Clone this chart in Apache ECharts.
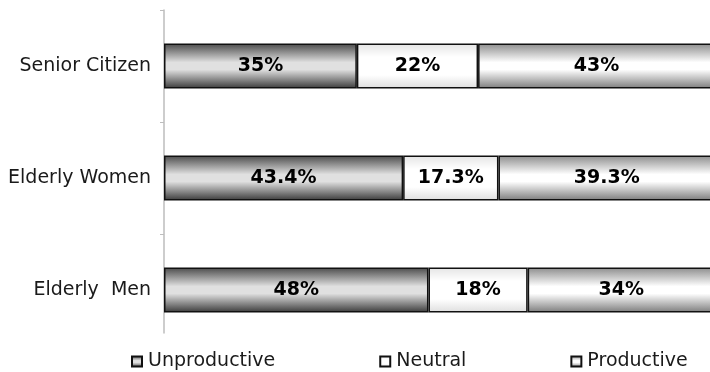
<!DOCTYPE html>
<html>
<head>
<meta charset="utf-8">
<script src="https://cdn.jsdelivr.net/npm/echarts@6/dist/echarts.min.js"></script>
<style>
  html, body { margin: 0; padding: 0; background: #fff; }
  #chart { width: 710px; height: 372px; }
</style>
</head>
<body>
<div id="chart"></div>
<script>
// Groups, bottom to top
const groups = ['Elderly  Men', 'Elderly Women', 'Senior Citizen'];
// Share of each attitude per group (%)
const unproductive = [48, 43.4, 35];
const neutral = [18, 17.3, 22];
const productive = [34, 39.3, 43];
const seriesNames = ['Unproductive', 'Neutral', 'Productive'];

const FONT = 'DejaVu Sans';

function vGrad(stops) {
  return new echarts.graphic.LinearGradient(0, 0, 0, 1,
    stops.map(s => ({ offset: s[0], color: s[1] })));
}

const fills = [
  vGrad([[0, '#4a4a4a'], [0.42, '#e0e0e0'], [0.58, '#e0e0e0'], [1, '#3a3a3a']]),
  vGrad([[0, '#e4e4e4'], [0.3, '#ffffff'], [0.7, '#ffffff'], [1, '#dedede']]),
  vGrad([[0, '#8c8c8c'], [0.42, '#ffffff'], [0.58, '#ffffff'], [1, '#7c7c7c']])
];

const values = [unproductive, neutral, productive];

const series = seriesNames.map((name, i) => ({
  name: name,
  type: 'bar',
  stack: 'total',
  barWidth: 45,
  xAxisIndex: 0,
  yAxisIndex: 0,
  data: values[i],
  itemStyle: { color: fills[i], borderColor: '#111', borderWidth: 1.5 },
  label: {
    show: true,
    position: 'inside',
    formatter: p => p.value + '%',
    color: '#000',
    fontFamily: FONT,
    fontWeight: 'bold',
    fontSize: 19
  }
}));

const chart = echarts.init(document.getElementById('chart'), null, { renderer: 'canvas' });
chart.setOption({
  animation: false,
  backgroundColor: '#fff',
  grid: [
    // the plot runs slightly past the right edge of the canvas
    { left: 164, width: 551, top: 10, height: 336, outerBoundsMode: 'none', containLabel: false },
    // shorter axis line on the left edge of the plot
    { left: 164, width: 10, top: 10, height: 323, outerBoundsMode: 'none', containLabel: false }
  ],
  xAxis: [
    { type: 'value', gridIndex: 0, min: 0, max: 100, show: false },
    { type: 'value', gridIndex: 1, show: false }
  ],
  yAxis: [
    {
      type: 'category',
      gridIndex: 0,
      data: groups,
      axisLine: { show: false },
      axisTick: { show: false },
      axisLabel: { margin: 13, color: '#1a1a1a', fontFamily: FONT, fontSize: 19 }
    },
    {
      type: 'value',
      gridIndex: 1,
      inverse: true,
      min: 0,
      max: 323 / 112,
      axisLine: { show: true, lineStyle: { color: '#bdbdbd', width: 1.5 } },
      axisTick: { show: true, length: 4, customValues: [0, 1, 2], lineStyle: { color: '#bdbdbd', width: 1 } },
      axisLabel: { show: false },
      splitLine: { show: false }
    }
  ],
  legend: {
    data: seriesNames,
    left: 131,
    top: 352,
    padding: 0,
    icon: 'rect',
    itemWidth: 10,
    itemHeight: 10,
    itemGap: 104,
    textStyle: { color: '#1a1a1a', fontFamily: FONT, fontSize: 19, padding: [0, 0, 0, 1] }
  },
  series: series
});
</script>
</body>
</html>
